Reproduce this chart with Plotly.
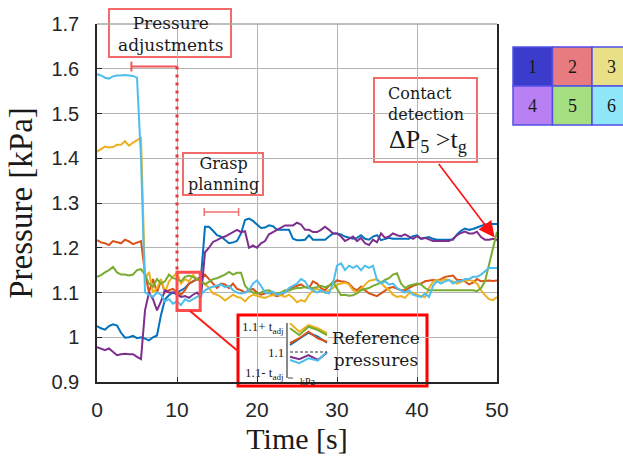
import plotly.graph_objects as go

# ---------------- data ----------------
time_s = [i * 0.5 for i in range(101)]

p1 = [1.025, 1.020, 1.017, 1.025, 1.029, 1.026, 1.010, 0.999, 1.000, 1.003,
      0.998, 1.000, 0.997, 0.993, 1.000, 1.004, 1.050, 1.085, 1.094, 1.100,
      1.100, 1.105, 1.110, 1.120, 1.125, 1.130, 1.135, 1.247, 1.247, 1.238,
      1.228, 1.225, 1.218, 1.210, 1.212, 1.215, 1.232, 1.262, 1.265, 1.260,
      1.252, 1.244, 1.245, 1.250, 1.248, 1.240, 1.240, 1.240, 1.240, 1.220,
      1.217, 1.217, 1.218, 1.228, 1.218, 1.218, 1.218, 1.218, 1.225, 1.232,
      1.232, 1.230, 1.225, 1.222, 1.220, 1.222, 1.228, 1.220, 1.218, 1.225,
      1.228, 1.217, 1.220, 1.222, 1.220, 1.220, 1.220, 1.220, 1.220, 1.226,
      1.228, 1.220, 1.222, 1.224, 1.220, 1.218, 1.218, 1.218, 1.218, 1.218,
      1.230, 1.238, 1.243, 1.240, 1.242, 1.245, 1.248, 1.252, 1.253, 1.253, 1.253]

p2 = [1.217, 1.212, 1.210, 1.206, 1.215, 1.212, 1.210, 1.218, 1.214, 1.208,
      1.212, 1.215, 1.143, 1.100, 1.130, 1.100, 1.127, 1.100, 1.105, 1.108,
      1.100, 1.095, 1.105, 1.120, 1.125, 1.130, 1.128, 1.140, 1.130, 1.120,
      1.110, 1.120, 1.118, 1.110, 1.120, 1.108, 1.105, 1.100, 1.105, 1.108,
      1.100, 1.095, 1.098, 1.100, 1.095, 1.092, 1.095, 1.100, 1.108, 1.112,
      1.115, 1.118, 1.112, 1.110, 1.125, 1.120, 1.110, 1.105, 1.115, 1.120,
      1.127, 1.125, 1.124, 1.120, 1.110, 1.105, 1.113, 1.105, 1.098, 1.095,
      1.092, 1.098, 1.104, 1.110, 1.112, 1.108, 1.105, 1.105, 1.110, 1.115,
      1.118, 1.120, 1.125, 1.127, 1.128, 1.127, 1.130, 1.135, 1.136, 1.138,
      1.128, 1.128, 1.125, 1.118, 1.122, 1.130, 1.125, 1.126, 1.127, 1.126, 1.127]

p3 = [1.415, 1.420, 1.426, 1.424, 1.425, 1.430, 1.430, 1.438, 1.428, 1.435,
      1.440, 1.447, 1.130, 1.146, 1.100, 1.110, 1.130, 1.100, 1.125, 1.135,
      1.145, 1.120, 1.130, 1.125, 1.139, 1.130, 1.125, 1.120, 1.110, 1.098,
      1.095, 1.090, 1.082, 1.088, 1.095, 1.090, 1.088, 1.080, 1.090, 1.095,
      1.092, 1.090, 1.088, 1.092, 1.094, 1.096, 1.094, 1.090, 1.095, 1.088,
      1.078, 1.083, 1.080, 1.095, 1.105, 1.108, 1.104, 1.100, 1.105, 1.110,
      1.118, 1.120, 1.122, 1.118, 1.105, 1.100, 1.108, 1.118, 1.126, 1.128,
      1.130, 1.122, 1.112, 1.106, 1.095, 1.090, 1.092, 1.088, 1.098, 1.100,
      1.095, 1.092, 1.090, 1.110, 1.124, 1.128, 1.126, 1.130, 1.128, 1.125,
      1.120, 1.124, 1.127, 1.128, 1.126, 1.120, 1.105, 1.094, 1.085, 1.083, 1.090]

p4 = [0.978, 0.975, 0.971, 0.975, 0.968, 0.960, 0.962, 0.963, 0.962, 0.962,
      0.956, 0.951, 1.060, 1.100, 1.085, 1.060, 1.080, 1.105, 1.100, 1.100,
      1.095, 1.090, 1.092, 1.088, 1.095, 1.100, 1.090, 1.190, 1.200, 1.213,
      1.217, 1.222, 1.225, 1.230, 1.235, 1.240, 1.235, 1.237, 1.200, 1.205,
      1.200, 1.210, 1.215, 1.230, 1.235, 1.240, 1.245, 1.250, 1.250, 1.250,
      1.256, 1.252, 1.240, 1.240, 1.235, 1.235, 1.240, 1.247, 1.240, 1.232,
      1.232, 1.225, 1.215, 1.220, 1.225, 1.215, 1.222, 1.210, 1.206, 1.218,
      1.212, 1.232, 1.222, 1.225, 1.232, 1.228, 1.226, 1.230, 1.224, 1.220,
      1.226, 1.220, 1.222, 1.218, 1.215, 1.215, 1.215, 1.215, 1.215, 1.220,
      1.228, 1.233, 1.236, 1.232, 1.232, 1.236, 1.224, 1.218, 1.218, 1.220, 1.217]

p5 = [1.135, 1.139, 1.145, 1.150, 1.157, 1.145, 1.140, 1.140, 1.138, 1.140,
      1.150, 1.152, 1.140, 1.120, 1.113, 1.130, 1.120, 1.125, 1.140, 1.132,
      1.130, 1.125, 1.135, 1.138, 1.135, 1.130, 1.125, 1.118, 1.125, 1.130,
      1.132, 1.136, 1.140, 1.146, 1.140, 1.144, 1.144, 1.115, 1.105, 1.100,
      1.098, 1.100, 1.104, 1.105, 1.100, 1.098, 1.100, 1.105, 1.104, 1.108,
      1.110, 1.110, 1.112, 1.110, 1.110, 1.112, 1.115, 1.112, 1.115, 1.124,
      1.110, 1.094, 1.095, 1.093, 1.094, 1.098, 1.105, 1.108, 1.110, 1.115,
      1.118, 1.122, 1.128, 1.132, 1.140, 1.143, 1.120, 1.110, 1.115, 1.118,
      1.120, 1.118, 1.110, 1.105, 1.105, 1.105, 1.105, 1.105, 1.105, 1.105,
      1.105, 1.105, 1.105, 1.105, 1.105, 1.103, 1.110, 1.125, 1.160, 1.200, 1.236]

p6 = [1.588, 1.585, 1.580, 1.578, 1.583, 1.585, 1.585, 1.586, 1.585, 1.584,
      1.580, 1.400, 1.100, 1.095, 1.090, 1.100, 1.095, 1.080, 1.085, 1.075,
      1.080, 1.072, 1.085, 1.080, 1.085, 1.090, 1.095, 1.105, 1.110, 1.113,
      1.115, 1.118, 1.112, 1.115, 1.105, 1.100, 1.098, 1.100, 1.105, 1.120,
      1.127, 1.115, 1.100, 1.098, 1.102, 1.095, 1.098, 1.100, 1.110, 1.115,
      1.120, 1.130, 1.125, 1.110, 1.105, 1.100, 1.105, 1.100, 1.098, 1.120,
      1.160, 1.165, 1.150, 1.160, 1.155, 1.160, 1.150, 1.160, 1.155, 1.160,
      1.128, 1.120, 1.125, 1.118, 1.120, 1.110, 1.105, 1.100, 1.105, 1.095,
      1.092, 1.090, 1.098, 1.090, 1.115, 1.125, 1.120, 1.125, 1.128, 1.120,
      1.125, 1.125, 1.130, 1.130, 1.135, 1.135, 1.140, 1.148, 1.155, 1.155, 1.155]

series = [p1, p2, p3, p4, p5, p6]
series_names = ["1", "2", "3", "4", "5", "6"]
colors = ["#0072BD", "#D95319", "#EDB120", "#7E2F8E", "#77AC30", "#4DBEEE"]

x_ticks = [0, 10, 20, 30, 40, 50]
y_ticks = [0.9, 1.0, 1.1, 1.2, 1.3, 1.4, 1.5, 1.6, 1.7]
y_tick_text = ["0.9", "1", "1.1", "1.2", "1.3", "1.4", "1.5", "1.6", "1.7"]

# inset "reference pressures" sketch (normalised: +1 = 1.1+t_adj, -1 = 1.1-t_adj)
inset_x = [0, 1, 2, 3, 4]
inset_vals = [
    [0.28, 0.51, 0.77, 0.61, 0.37],     # 1
    [0.35, 0.55, 0.81, 0.55, 0.41],     # 2
    [1.15, 0.81, 1.08, 0.95, 0.75],     # 3
    [-0.19, -0.29, -0.12, -0.32, -0.03],  # 4
    [0.95, 0.68, 1.01, 0.88, 0.68],     # 5
    [-0.32, -0.45, -0.25, -0.35, 0.01],  # 6
]
inset_ref = [0, 0]
inset_ref_x = [0, 4]

finger_labels = ["1", "2", "3", "4", "5", "6"]
finger_colors = ["#3c3ccc", "#e87b80", "#e9df86", "#b980f4", "#a6de82", "#90e7f9"]

# ---------------- layout helpers ----------------
W, H = 623, 457
ML, MR, MT, MB = 97, 126, 24, 75
PW, PH = W - ML - MR, H - MT - MB


def pxx(x):
    return (x - ML) / PW


def pyy(y):
    return (H - MB - y) / PH


SERIF = "Liberation Serif"
BOXSERIF = "DejaVu Serif"
SANS = "Liberation Sans"
BOXRED = "#f26a6a"

fig = go.Figure()

for name, vals, col in zip(series_names, series, colors):
    fig.add_trace(go.Scatter(x=time_s, y=vals, mode="lines", name=name,
                             line=dict(color=col, width=2), showlegend=False))

for vals, col in zip(inset_vals, colors):
    fig.add_trace(go.Scatter(x=inset_x, y=vals, mode="lines", xaxis="x2", yaxis="y2",
                             line=dict(color=col, width=2), showlegend=False, hoverinfo="skip"))
fig.add_trace(go.Scatter(x=inset_ref_x, y=inset_ref, mode="lines", xaxis="x2", yaxis="y2",
                         line=dict(color="#333333", width=1, dash="3px,2px"), showlegend=False))

shapes = []
# pressure adjustments box
shapes.append(dict(type="rect", xref="paper", yref="paper", x0=pxx(109), x1=pxx(231),
                   y0=pyy(57), y1=pyy(9), line=dict(color=BOXRED, width=2),
                   fillcolor="white", layer="between"))
# adjustment interval bar
adj_t0, adj_t1, adj_y = 4.3, 10.0, 1.605
shapes.append(dict(type="line", xref="x", yref="y", x0=adj_t0, x1=adj_t1, y0=adj_y, y1=adj_y,
                   line=dict(color="#f05858", width=2)))
shapes.append(dict(type="line", xref="x", yref="y", x0=adj_t0, x1=adj_t0, y0=adj_y - 0.011,
                   y1=adj_y + 0.011, line=dict(color="#f05858", width=2)))
# dotted vertical line at end of adjustment
shapes.append(dict(type="line", xref="x", yref="y", x0=adj_t1, x1=adj_t1, y0=adj_y, y1=1.145,
                   line=dict(color="#e83838", width=3, dash="3px,5px")))
# grasp planning box & bar
shapes.append(dict(type="rect", xref="paper", yref="paper", x0=pxx(183), x1=pxx(263),
                   y0=pyy(195), y1=pyy(153), line=dict(color=BOXRED, width=2),
                   fillcolor="white", layer="between"))
gp_t0, gp_t1, gp_y = 13.4, 17.7, 1.28
shapes.append(dict(type="line", xref="x", yref="y", x0=gp_t0, x1=gp_t1, y0=gp_y, y1=gp_y,
                   line=dict(color="#f27070", width=1.5)))
for tt in (gp_t0, gp_t1):
    shapes.append(dict(type="line", xref="x", yref="y", x0=tt, x1=tt, y0=gp_y - 0.009,
                       y1=gp_y + 0.009, line=dict(color="#f27070", width=1.5)))
# contact detection box
shapes.append(dict(type="rect", xref="paper", yref="paper", x0=pxx(374), x1=pxx(477),
                   y0=pyy(162), y1=pyy(78), line=dict(color=BOXRED, width=2),
                   fillcolor="white", layer="between"))
# reference-pressure zoom rectangle
shapes.append(dict(type="rect", xref="x", yref="y", x0=10.0, x1=12.9, y0=1.06, y1=1.145,
                   line=dict(color="#ff4c4c", width=3)))
shapes.append(dict(type="line", xref="paper", yref="paper", x0=pxx(190), y0=pyy(311),
                   x1=pxx(239), y1=pyy(352), line=dict(color="#ff1a1a", width=2)))
# inset box
shapes.append(dict(type="rect", xref="paper", yref="paper", x0=pxx(238), x1=pxx(427),
                   y0=pyy(386), y1=pyy(315), line=dict(color="#ff0000", width=3),
                   fillcolor="white", layer="between"))
shapes.append(dict(type="line", xref="paper", yref="paper", x0=pxx(288), x1=pxx(293),
                   y0=pyy(378), y1=pyy(378), line=dict(color="#888888", width=1.5)))
# top border of axes
shapes.append(dict(type="line", xref="paper", yref="paper", x0=0, x1=1, y0=1, y1=1,
                   line=dict(color="#a8a8a8", width=1.5)))
# finger colour grid
cx = [513, 552.5, 592, 631.5]
cy = [47, 86, 125]
for r in range(2):
    for c in range(3):
        k = r * 3 + c
        shapes.append(dict(type="rect", xref="paper", yref="paper",
                           x0=pxx(cx[c]), x1=pxx(cx[c + 1]), y0=pyy(cy[r + 1]), y1=pyy(cy[r]),
                           fillcolor=finger_colors[k], line=dict(color="#5050e6", width=1.5)))

ann = []


def text(x, y, s, size, xanchor="center", font=SERIF, color="#1a1a1a", align="center"):
    ann.append(dict(x=pxx(x), y=pyy(y), xref="paper", yref="paper", text=s, showarrow=False,
                    xanchor=xanchor, yanchor="middle", align=align,
                    font=dict(family=font, size=size, color=color)))


text(170, 34, "Pressure<br>adjustments", 17, font=BOXSERIF)
text(223, 174, "Grasp<br>planning", 16, font=BOXSERIF)
text(386, 104, "Contact<br>detection", 16, xanchor="left", font=BOXSERIF, align="left")
text(387, 141, "ΔP<sub>5</sub> &gt;t<sub>g</sub>", 26, xanchor="left")
text(376, 349, "Reference<br>pressures", 17, font=BOXSERIF)
text(286, 327, "1.1+ t<sub>adj</sub>", 13, xanchor="right")
text(286, 352, "1.1", 13, xanchor="right")
text(286, 373, "1.1- t<sub>adj</sub>", 13, xanchor="right")
text(298, 381, "kPa", 10, xanchor="left")
for r in range(2):
    for c in range(3):
        k = r * 3 + c
        text((cx[c] + cx[c + 1]) / 2, (cy[r] + cy[r + 1]) / 2, finger_labels[k], 18)

# contact detection arrow
ann.append(dict(x=49.7, y=1.223, xref="x", yref="y", ax=-57, ay=-75, axref="pixel", ayref="pixel",
                showarrow=True, arrowhead=2, arrowsize=2, arrowwidth=1.6, arrowcolor="#ff1010",
                text=""))

fig.update_layout(
    template="none",
    width=W, height=H,
    margin=dict(l=ML, r=MR, t=MT, b=MB, autoexpand=False),
    paper_bgcolor="white", plot_bgcolor="white",
    shapes=shapes, annotations=ann,
    xaxis=dict(range=[0, 50], tickvals=x_ticks, ticks="inside", ticklen=5, automargin=False,
               tickcolor="#262626", showline=True, linecolor="#262626", linewidth=1.5,
               showgrid=True, gridcolor="#b4b4b4", gridwidth=1, zeroline=False,
               tickfont=dict(family=SANS, size=21, color="#262626"), ticklabelstandoff=8,
               title=dict(text="Time [s]", font=dict(family=SERIF, size=30, color="#1a1a1a"),
                          standoff=8)),
    yaxis=dict(range=[0.9, 1.7], tickvals=y_ticks, ticktext=y_tick_text, ticks="inside",
               ticklen=5, tickcolor="#262626", showline=True, mirror=True, linecolor="#262626",
               linewidth=1.5, showgrid=True, gridcolor="#b4b4b4", gridwidth=1, zeroline=False,
               automargin=False,
               tickfont=dict(family=SANS, size=20, color="#262626"), ticklabelstandoff=12,
               title=dict(text="Pressure [kPa]", font=dict(family=SERIF, size=33, color="#1a1a1a"),
                          standoff=9)),
    xaxis2=dict(domain=[pxx(288), pxx(328)], range=[-0.216, 4.108], anchor="y2",
                showgrid=False, zeroline=False, showticklabels=False, showline=False, ticks=""),
    yaxis2=dict(domain=[pyy(378), pyy(323)], range=[-1.04, 1.16], anchor="x2",
                showgrid=False, zeroline=False, showticklabels=False, showline=True,
                linecolor="#888888", linewidth=1.5, ticks=""),
)

fig.write_html("out.html", config={"displayModeBar": False},
               post_script="document.body.style.margin='0px';document.body.style.padding='0px';"
                           "document.body.style.overflow='hidden';")
